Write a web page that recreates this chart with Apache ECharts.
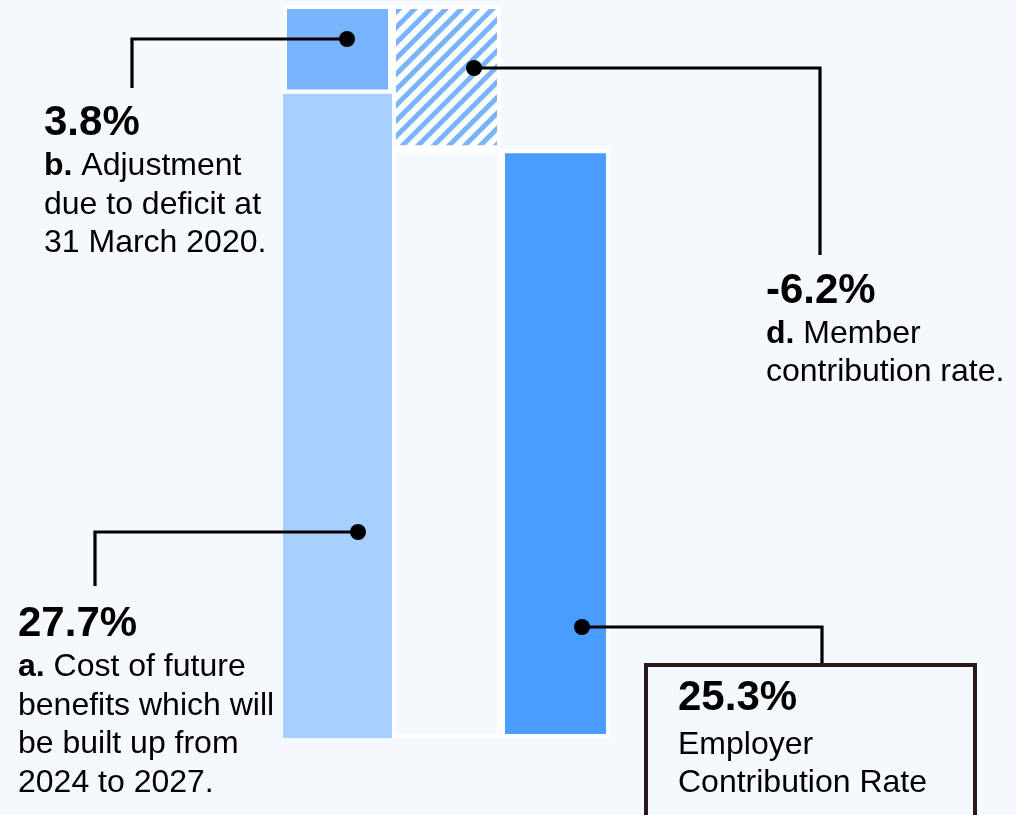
<!DOCTYPE html>
<html>
<head>
<meta charset="utf-8">
<script src="https://cdn.jsdelivr.net/npm/echarts@6/dist/echarts.min.js"></script>
<style>
html,body{margin:0;padding:0;background:#f5f8fd;}
#chart{width:1016px;height:815px;}
</style>
</head>
<body>
<div id="chart"></div>
<script>
// ---- data ----
const categories = ['Cost and adjustment', 'Member contribution', 'Employer contribution'];
const componentKeys = ['a.', 'b.', 'd.', ''];
const componentValues = [27.7, 3.8, -6.2, 25.3];
const componentTexts = [
  ['Cost of future', 'benefits which will', 'be built up from', '2024 to 2027.'],
  ['Adjustment', 'due to deficit at', '31 March 2020.'],
  ['Member', 'contribution rate.'],
  ['Employer', 'Contribution Rate']
];

// ---- derived series ----
const [costA, adjB, memberD, employerRate] = componentValues;
const total = +(costA + adjB).toFixed(1);
const memberBase = +(total + memberD).toFixed(1);
const seriesCost = [costA, '-', '-'];
const seriesAdj = [adjB, '-', '-'];
const seriesMemberBase = ['-', memberBase, '-'];
const seriesMember = ['-', -memberD, '-'];
const seriesEmployer = ['-', '-', employerRate];
const fmt = v => v.toFixed(1) + '%';

const FONT = '"Liberation Sans", Arial, Helvetica, sans-serif';
const BG = '#f5f8fd';

function textBlock(x, valueY, value, key, lines, bodyY) {
  const els = [];
  els.push({
    type: 'text', x: x, y: valueY, z: 110,
    style: { text: value, fontSize: 42, fontWeight: 'bold', fontFamily: FONT, fill: '#000',
             verticalAlign: 'middle', textVerticalAlign: 'middle', align: 'left', textAlign: 'left' }
  });
  lines.forEach((ln, i) => {
    const t = (i === 0 && key) ? '{k|' + key + '} ' + ln : ln;
    els.push({
      type: 'text', x: x, y: bodyY[i], z: 110,
      style: { text: t, fontSize: 32, fontFamily: FONT, fill: '#000',
               verticalAlign: 'middle', textVerticalAlign: 'middle', align: 'left', textAlign: 'left',
               rich: { k: { fontSize: 32, fontWeight: 'bold', fontFamily: FONT, fill: '#000' } } }
    });
  });
  return els;
}

function leader(points, dot) {
  return [
    { type: 'polyline', z: 100, shape: { points: points },
      style: { stroke: '#000', lineWidth: 3.2, fill: null } },
    { type: 'circle', z: 101, shape: { cx: dot[0], cy: dot[1], r: 8 },
      style: { fill: '#000' } }
  ];
}

const graphics = [].concat(
  leader([[347, 39], [132, 39], [132, 88]], [347, 39]),
  leader([[474, 68], [820, 68], [820, 255]], [474, 68]),
  leader([[358, 532], [95, 532], [95, 586]], [358, 532]),
  leader([[582, 627], [822, 627], [822, 665]], [582, 627]),
  [{ type: 'rect', z: 102, shape: { x: 646, y: 665, width: 329, height: 200 },
     style: { fill: BG, stroke: '#2b191c', lineWidth: 4 } }],
  textBlock(44, 123, fmt(adjB), componentKeys[1], componentTexts[1], [166.5, 205, 243.5]),
  textBlock(18, 624, fmt(costA), componentKeys[0], componentTexts[0], [667.5, 706, 744.5, 783]),
  textBlock(766, 291, fmt(memberD), componentKeys[2], componentTexts[2], [334, 372.5]),
  textBlock(678, 698, fmt(employerRate), componentKeys[3], componentTexts[3], [745, 783])
);

const chart = echarts.init(document.getElementById('chart'), null, { renderer: 'canvas' });
chart.setOption({
  backgroundColor: BG,
  animation: false,
  grid: { left: 283, width: 327, top: 5, bottom: 77, containLabel: false },
  xAxis: { type: 'category', data: categories, show: false },
  yAxis: { type: 'value', min: 0, max: total, show: false, splitLine: { show: false } },
  series: [
    { type: 'bar', name: 'a', stack: 'w', barWidth: '100%', data: seriesCost,
      itemStyle: { color: '#a8d0ff', borderWidth: 0 } },
    { type: 'bar', name: 'b', stack: 'w', barWidth: '100%', data: seriesAdj,
      itemStyle: { color: '#79b5ff', borderColor: '#ffffff', borderWidth: 4 } },
    { type: 'bar', name: 'base', stack: 'w', barWidth: '100%', data: seriesMemberBase,
      itemStyle: { color: BG, borderColor: '#ffffff', borderWidth: 4 } },
    { type: 'bar', name: 'd', stack: 'w', barWidth: '100%', data: seriesMember,
      itemStyle: { color: '#ffffff', borderColor: '#ffffff', borderWidth: 4,
        decal: { symbol: 'rect', symbolSize: 1, color: '#79b5ff', backgroundColor: '#ffffff',
                 dashArrayX: [1, 0], dashArrayY: [5, 5.4], rotation: -Math.PI / 4 } } },
    { type: 'bar', name: 'employer', stack: 'w', barWidth: '100%', data: seriesEmployer,
      itemStyle: { color: '#489dff', borderColor: '#ffffff', borderWidth: 4 } }
  ],
  graphic: graphics
});
</script>
</body>
</html>
